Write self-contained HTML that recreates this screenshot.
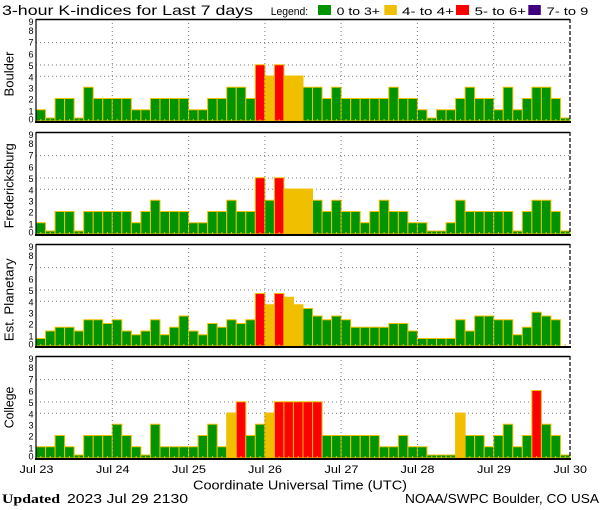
<!DOCTYPE html>
<html><head><meta charset="utf-8"><style>
html,body{margin:0;padding:0;background:#fff;}
svg{display:block;}
text{font-family:"Liberation Sans",sans-serif;fill:#000;}
.bars rect{stroke:#f0c000;stroke-width:1;vector-effect:non-scaling-stroke;}
.g{fill:#009400}.y{fill:#f0c000}.r{fill:#ff0000}
.hg{stroke:#7a7a7a;stroke-width:1;stroke-dasharray:1 3;}
.vg{stroke:#7a7a7a;stroke-width:1;stroke-dasharray:1 3;}
.tk{stroke:#f0c000;stroke-width:2;stroke-dasharray:1 8.5357;}
.dg text{font-size:9px;text-anchor:middle;}
</style></head><body>
<svg width="600" height="510" viewBox="0 0 600 510" xmlns="http://www.w3.org/2000/svg">
<rect width="600" height="510" fill="#fff"/>
<text x="2" y="15" font-size="14" textLength="251" lengthAdjust="spacingAndGlyphs">3-hour K-indices for Last 7 days</text>
<text x="270.7" y="15" font-size="11" textLength="37.5" lengthAdjust="spacingAndGlyphs">Legend:</text>
<rect x="318" y="5" width="13" height="10" fill="#009400"/>
<text x="336.7" y="15" font-size="11" textLength="43.3" lengthAdjust="spacingAndGlyphs">0 to 3+</text>
<rect x="384.3" y="5" width="12.5" height="10" fill="#f0c000"/>
<text x="402" y="15" font-size="11" textLength="52" lengthAdjust="spacingAndGlyphs">4- to 4+</text>
<rect x="456" y="5" width="13" height="10" fill="#ff0000"/>
<text x="474.7" y="15" font-size="11" textLength="51.3" lengthAdjust="spacingAndGlyphs">5- to 6+</text>
<rect x="528.3" y="5" width="12.5" height="10" fill="#400080"/>
<text x="546.7" y="15" font-size="11" textLength="41.6" lengthAdjust="spacingAndGlyphs">7- to 9</text>

<!-- Panel 1: Boulder, B=121 -->
<g>
<line class="hg" x1="36" x2="570" y1="76.2" y2="76.2"/>
<line class="hg" x1="36" x2="570" y1="65" y2="65"/>
<line class="hg" x1="36" x2="570" y1="42.6" y2="42.6"/>
<g class="bars" transform="translate(36,121) scale(9.5357,-11.25)">
<rect x="0" width="1" height="1" class="g"/><rect x="1" width="1" height="0.267" class="g"/><rect x="2" width="1" height="2" class="g"/><rect x="3" width="1" height="2" class="g"/><rect x="4" width="1" height="0.267" class="g"/><rect x="5" width="1" height="3" class="g"/><rect x="6" width="1" height="2" class="g"/><rect x="7" width="1" height="2" class="g"/>
<rect x="8" width="1" height="2" class="g"/><rect x="9" width="1" height="2" class="g"/><rect x="10" width="1" height="1" class="g"/><rect x="11" width="1" height="1" class="g"/><rect x="12" width="1" height="2" class="g"/><rect x="13" width="1" height="2" class="g"/><rect x="14" width="1" height="2" class="g"/><rect x="15" width="1" height="2" class="g"/>
<rect x="16" width="1" height="1" class="g"/><rect x="17" width="1" height="1" class="g"/><rect x="18" width="1" height="2" class="g"/><rect x="19" width="1" height="2" class="g"/><rect x="20" width="1" height="3" class="g"/><rect x="21" width="1" height="3" class="g"/><rect x="22" width="1" height="2" class="g"/><rect x="23" width="1" height="5" class="r"/>
<rect x="24" width="1" height="4" class="y"/><rect x="25" width="1" height="5" class="r"/><rect x="26" width="1" height="4" class="y"/><rect x="27" width="1" height="4" class="y"/><rect x="28" width="1" height="3" class="g"/><rect x="29" width="1" height="3" class="g"/><rect x="30" width="1" height="2" class="g"/><rect x="31" width="1" height="3" class="g"/>
<rect x="32" width="1" height="2" class="g"/><rect x="33" width="1" height="2" class="g"/><rect x="34" width="1" height="2" class="g"/><rect x="35" width="1" height="2" class="g"/><rect x="36" width="1" height="2" class="g"/><rect x="37" width="1" height="3" class="g"/><rect x="38" width="1" height="2" class="g"/><rect x="39" width="1" height="2" class="g"/>
<rect x="40" width="1" height="1" class="g"/><rect x="41" width="1" height="0.267" class="g"/><rect x="42" width="1" height="1" class="g"/><rect x="43" width="1" height="1" class="g"/><rect x="44" width="1" height="2" class="g"/><rect x="45" width="1" height="3" class="g"/><rect x="46" width="1" height="2" class="g"/><rect x="47" width="1" height="2" class="g"/>
<rect x="48" width="1" height="1" class="g"/><rect x="49" width="1" height="3" class="g"/><rect x="50" width="1" height="1" class="g"/><rect x="51" width="1" height="2" class="g"/><rect x="52" width="1" height="3" class="g"/><rect x="53" width="1" height="3" class="g"/><rect x="54" width="1" height="2" class="g"/><rect x="55" width="1" height="0.267" class="g"/>
</g>
<line class="tk" x1="40.3" x2="570" y1="120" y2="120"/>
<line class="vg" x1="112.3" x2="112.3" y1="19" y2="121"/><line class="vg" x1="188.6" x2="188.6" y1="19" y2="121"/><line class="vg" x1="264.9" x2="264.9" y1="19" y2="121"/><line class="vg" x1="341.1" x2="341.1" y1="19" y2="121"/><line class="vg" x1="417.4" x2="417.4" y1="19" y2="121"/><line class="vg" x1="493.7" x2="493.7" y1="19" y2="121"/>
<line x1="36" x2="570" y1="19.5" y2="19.5" stroke="#000" stroke-width="1.5"/>
<line x1="35" x2="571" y1="122" y2="122" stroke="#000" stroke-width="2"/>
<line x1="36" x2="36" y1="19" y2="122" stroke="#000" stroke-width="1.2"/>
<line x1="570" x2="570" y1="19" y2="122" stroke="#000" stroke-width="1.2" stroke-dasharray="4 2"/>
<g class="dg"><text x="31" y="122.3">0</text><text x="31" y="114.3">1</text><text x="31" y="102.7">2</text><text x="31" y="91.7">3</text><text x="31" y="80.3">4</text><text x="31" y="69">5</text><text x="31" y="57.7">6</text><text x="31" y="45.7">7</text><text x="31" y="34">8</text><text x="31" y="25">9</text></g>
<text transform="translate(13.5,96.5) rotate(-90)" font-size="13" textLength="45" lengthAdjust="spacingAndGlyphs">Boulder</text>
</g>

<!-- Panel 2: Fredericksburg, B=234 -->
<g>
<line class="hg" x1="36" x2="570" y1="189.2" y2="189.2"/>
<line class="hg" x1="36" x2="570" y1="178" y2="178"/>
<line class="hg" x1="36" x2="570" y1="155.6" y2="155.6"/>
<g class="bars" transform="translate(36,234) scale(9.5357,-11.25)">
<rect x="0" width="1" height="1" class="g"/><rect x="1" width="1" height="0.267" class="g"/><rect x="2" width="1" height="2" class="g"/><rect x="3" width="1" height="2" class="g"/><rect x="4" width="1" height="0.267" class="g"/><rect x="5" width="1" height="2" class="g"/><rect x="6" width="1" height="2" class="g"/><rect x="7" width="1" height="2" class="g"/>
<rect x="8" width="1" height="2" class="g"/><rect x="9" width="1" height="2" class="g"/><rect x="10" width="1" height="1" class="g"/><rect x="11" width="1" height="2" class="g"/><rect x="12" width="1" height="3" class="g"/><rect x="13" width="1" height="2" class="g"/><rect x="14" width="1" height="2" class="g"/><rect x="15" width="1" height="2" class="g"/>
<rect x="16" width="1" height="1" class="g"/><rect x="17" width="1" height="1" class="g"/><rect x="18" width="1" height="2" class="g"/><rect x="19" width="1" height="2" class="g"/><rect x="20" width="1" height="3" class="g"/><rect x="21" width="1" height="2" class="g"/><rect x="22" width="1" height="2" class="g"/><rect x="23" width="1" height="5" class="r"/>
<rect x="24" width="1" height="3" class="g"/><rect x="25" width="1" height="5" class="r"/><rect x="26" width="1" height="4" class="y"/><rect x="27" width="1" height="4" class="y"/><rect x="28" width="1" height="4" class="y"/><rect x="29" width="1" height="3" class="g"/><rect x="30" width="1" height="2" class="g"/><rect x="31" width="1" height="3" class="g"/>
<rect x="32" width="1" height="2" class="g"/><rect x="33" width="1" height="2" class="g"/><rect x="34" width="1" height="1" class="g"/><rect x="35" width="1" height="2" class="g"/><rect x="36" width="1" height="3" class="g"/><rect x="37" width="1" height="2" class="g"/><rect x="38" width="1" height="2" class="g"/><rect x="39" width="1" height="1" class="g"/>
<rect x="40" width="1" height="1" class="g"/><rect x="41" width="1" height="0.267" class="g"/><rect x="42" width="1" height="0.267" class="g"/><rect x="43" width="1" height="1" class="g"/><rect x="44" width="1" height="3" class="g"/><rect x="45" width="1" height="2" class="g"/><rect x="46" width="1" height="2" class="g"/><rect x="47" width="1" height="2" class="g"/>
<rect x="48" width="1" height="2" class="g"/><rect x="49" width="1" height="2" class="g"/><rect x="50" width="1" height="0.267" class="g"/><rect x="51" width="1" height="2" class="g"/><rect x="52" width="1" height="3" class="g"/><rect x="53" width="1" height="3" class="g"/><rect x="54" width="1" height="2" class="g"/><rect x="55" width="1" height="0.267" class="g"/>
</g>
<line class="tk" x1="40.3" x2="570" y1="233" y2="233"/>
<line class="vg" x1="112.3" x2="112.3" y1="132" y2="234"/><line class="vg" x1="188.6" x2="188.6" y1="132" y2="234"/><line class="vg" x1="264.9" x2="264.9" y1="132" y2="234"/><line class="vg" x1="341.1" x2="341.1" y1="132" y2="234"/><line class="vg" x1="417.4" x2="417.4" y1="132" y2="234"/><line class="vg" x1="493.7" x2="493.7" y1="132" y2="234"/>
<line x1="36" x2="570" y1="132.5" y2="132.5" stroke="#000" stroke-width="1.5"/>
<line x1="35" x2="571" y1="235" y2="235" stroke="#000" stroke-width="2"/>
<line x1="36" x2="36" y1="132" y2="235" stroke="#000" stroke-width="1.2"/>
<line x1="570" x2="570" y1="132" y2="235" stroke="#000" stroke-width="1.2" stroke-dasharray="4 2"/>
<g class="dg"><text x="31" y="235.3">0</text><text x="31" y="227.3">1</text><text x="31" y="215.7">2</text><text x="31" y="204.7">3</text><text x="31" y="193.3">4</text><text x="31" y="182">5</text><text x="31" y="170.7">6</text><text x="31" y="158.7">7</text><text x="31" y="147">8</text><text x="31" y="138">9</text></g>
<text transform="translate(13.5,228.3) rotate(-90)" font-size="13" textLength="85" lengthAdjust="spacingAndGlyphs">Fredericksburg</text>
</g>

<!-- Panel 3: Est. Planetary, B=346 -->
<g>
<line class="hg" x1="36" x2="570" y1="301.2" y2="301.2"/>
<line class="hg" x1="36" x2="570" y1="290" y2="290"/>
<line class="hg" x1="36" x2="570" y1="267.6" y2="267.6"/>
<g class="bars" transform="translate(36,346) scale(9.5357,-11.25)">
<rect x="0" width="1" height="0.67" class="g"/><rect x="1" width="1" height="1.33" class="g"/><rect x="2" width="1" height="1.67" class="g"/><rect x="3" width="1" height="1.67" class="g"/><rect x="4" width="1" height="1.33" class="g"/><rect x="5" width="1" height="2.33" class="g"/><rect x="6" width="1" height="2.33" class="g"/><rect x="7" width="1" height="2" class="g"/>
<rect x="8" width="1" height="2.33" class="g"/><rect x="9" width="1" height="1.33" class="g"/><rect x="10" width="1" height="1" class="g"/><rect x="11" width="1" height="1.33" class="g"/><rect x="12" width="1" height="2.33" class="g"/><rect x="13" width="1" height="1" class="g"/><rect x="14" width="1" height="1.67" class="g"/><rect x="15" width="1" height="2.67" class="g"/>
<rect x="16" width="1" height="1.33" class="g"/><rect x="17" width="1" height="1" class="g"/><rect x="18" width="1" height="2" class="g"/><rect x="19" width="1" height="1.67" class="g"/><rect x="20" width="1" height="2.33" class="g"/><rect x="21" width="1" height="2" class="g"/><rect x="22" width="1" height="2.33" class="g"/><rect x="23" width="1" height="4.67" class="r"/>
<rect x="24" width="1" height="3.67" class="y"/><rect x="25" width="1" height="4.67" class="r"/><rect x="26" width="1" height="4.33" class="y"/><rect x="27" width="1" height="3.67" class="y"/><rect x="28" width="1" height="3.33" class="g"/><rect x="29" width="1" height="2.67" class="g"/><rect x="30" width="1" height="2.33" class="g"/><rect x="31" width="1" height="2.67" class="g"/>
<rect x="32" width="1" height="2.33" class="g"/><rect x="33" width="1" height="1.67" class="g"/><rect x="34" width="1" height="1.67" class="g"/><rect x="35" width="1" height="1.67" class="g"/><rect x="36" width="1" height="1.67" class="g"/><rect x="37" width="1" height="2" class="g"/><rect x="38" width="1" height="2" class="g"/><rect x="39" width="1" height="1.33" class="g"/>
<rect x="40" width="1" height="0.67" class="g"/><rect x="41" width="1" height="0.67" class="g"/><rect x="42" width="1" height="0.67" class="g"/><rect x="43" width="1" height="0.67" class="g"/><rect x="44" width="1" height="2.33" class="g"/><rect x="45" width="1" height="1.33" class="g"/><rect x="46" width="1" height="2.67" class="g"/><rect x="47" width="1" height="2.67" class="g"/>
<rect x="48" width="1" height="2.33" class="g"/><rect x="49" width="1" height="2.33" class="g"/><rect x="50" width="1" height="1" class="g"/><rect x="51" width="1" height="1.67" class="g"/><rect x="52" width="1" height="3" class="g"/><rect x="53" width="1" height="2.67" class="g"/><rect x="54" width="1" height="2.33" class="g"/>
</g>
<line class="tk" x1="40.3" x2="570" y1="345" y2="345"/>
<line class="vg" x1="112.3" x2="112.3" y1="244" y2="346"/><line class="vg" x1="188.6" x2="188.6" y1="244" y2="346"/><line class="vg" x1="264.9" x2="264.9" y1="244" y2="346"/><line class="vg" x1="341.1" x2="341.1" y1="244" y2="346"/><line class="vg" x1="417.4" x2="417.4" y1="244" y2="346"/><line class="vg" x1="493.7" x2="493.7" y1="244" y2="346"/>
<line x1="36" x2="570" y1="244.5" y2="244.5" stroke="#000" stroke-width="1.5"/>
<line x1="35" x2="571" y1="347" y2="347" stroke="#000" stroke-width="2"/>
<line x1="36" x2="36" y1="244" y2="347" stroke="#000" stroke-width="1.2"/>
<line x1="570" x2="570" y1="244" y2="347" stroke="#000" stroke-width="1.2" stroke-dasharray="4 2"/>
<g class="dg"><text x="31" y="347.3">0</text><text x="31" y="339.3">1</text><text x="31" y="327.7">2</text><text x="31" y="316.7">3</text><text x="31" y="305.3">4</text><text x="31" y="294">5</text><text x="31" y="282.7">6</text><text x="31" y="270.7">7</text><text x="31" y="259">8</text><text x="31" y="250">9</text></g>
<text transform="translate(13.5,341.3) rotate(-90)" font-size="13" textLength="83" lengthAdjust="spacingAndGlyphs">Est. Planetary</text>
</g>

<!-- Panel 4: College, B=458 -->
<g>
<line class="hg" x1="36" x2="570" y1="413.2" y2="413.2"/>
<line class="hg" x1="36" x2="570" y1="402" y2="402"/>
<line class="hg" x1="36" x2="570" y1="379.6" y2="379.6"/>
<g class="bars" transform="translate(36,458) scale(9.5357,-11.25)">
<rect x="0" width="1" height="1" class="g"/><rect x="1" width="1" height="1" class="g"/><rect x="2" width="1" height="2" class="g"/><rect x="3" width="1" height="1" class="g"/><rect x="4" width="1" height="0.267" class="g"/><rect x="5" width="1" height="2" class="g"/><rect x="6" width="1" height="2" class="g"/><rect x="7" width="1" height="2" class="g"/>
<rect x="8" width="1" height="3" class="g"/><rect x="9" width="1" height="2" class="g"/><rect x="10" width="1" height="1" class="g"/><rect x="11" width="1" height="0.267" class="g"/><rect x="12" width="1" height="3" class="g"/><rect x="13" width="1" height="1" class="g"/><rect x="14" width="1" height="1" class="g"/><rect x="15" width="1" height="1" class="g"/>
<rect x="16" width="1" height="1" class="g"/><rect x="17" width="1" height="2" class="g"/><rect x="18" width="1" height="3" class="g"/><rect x="19" width="1" height="1" class="g"/><rect x="20" width="1" height="4" class="y"/><rect x="21" width="1" height="5" class="r"/><rect x="22" width="1" height="2" class="g"/><rect x="23" width="1" height="3" class="g"/>
<rect x="24" width="1" height="4" class="y"/><rect x="25" width="1" height="5" class="r"/><rect x="26" width="1" height="5" class="r"/><rect x="27" width="1" height="5" class="r"/><rect x="28" width="1" height="5" class="r"/><rect x="29" width="1" height="5" class="r"/><rect x="30" width="1" height="2" class="g"/><rect x="31" width="1" height="2" class="g"/>
<rect x="32" width="1" height="2" class="g"/><rect x="33" width="1" height="2" class="g"/><rect x="34" width="1" height="2" class="g"/><rect x="35" width="1" height="2" class="g"/><rect x="36" width="1" height="1" class="g"/><rect x="37" width="1" height="1" class="g"/><rect x="38" width="1" height="2" class="g"/><rect x="39" width="1" height="1" class="g"/>
<rect x="40" width="1" height="1" class="g"/><rect x="41" width="1" height="0.267" class="g"/><rect x="42" width="1" height="0.267" class="g"/><rect x="43" width="1" height="0.267" class="g"/><rect x="44" width="1" height="4" class="y"/><rect x="45" width="1" height="2" class="g"/><rect x="46" width="1" height="2" class="g"/><rect x="47" width="1" height="1" class="g"/>
<rect x="48" width="1" height="2" class="g"/><rect x="49" width="1" height="3" class="g"/><rect x="50" width="1" height="1" class="g"/><rect x="51" width="1" height="2" class="g"/><rect x="52" width="1" height="6" class="r"/><rect x="53" width="1" height="3" class="g"/><rect x="54" width="1" height="2" class="g"/><rect x="55" width="1" height="0.267" class="g"/>
</g>
<line class="tk" x1="40.3" x2="570" y1="457" y2="457"/>
<line class="vg" x1="112.3" x2="112.3" y1="356" y2="458"/><line class="vg" x1="188.6" x2="188.6" y1="356" y2="458"/><line class="vg" x1="264.9" x2="264.9" y1="356" y2="458"/><line class="vg" x1="341.1" x2="341.1" y1="356" y2="458"/><line class="vg" x1="417.4" x2="417.4" y1="356" y2="458"/><line class="vg" x1="493.7" x2="493.7" y1="356" y2="458"/>
<line x1="36" x2="570" y1="356.5" y2="356.5" stroke="#000" stroke-width="1.5"/>
<line x1="35" x2="571" y1="459" y2="459" stroke="#000" stroke-width="2"/>
<line x1="36" x2="36" y1="356" y2="459" stroke="#000" stroke-width="1.2"/>
<line x1="570" x2="570" y1="356" y2="459" stroke="#000" stroke-width="1.2" stroke-dasharray="4 2"/>
<g class="dg"><text x="31" y="459.3">0</text><text x="31" y="451.3">1</text><text x="31" y="439.7">2</text><text x="31" y="428.7">3</text><text x="31" y="417.3">4</text><text x="31" y="406">5</text><text x="31" y="394.7">6</text><text x="31" y="382.7">7</text><text x="31" y="371">8</text><text x="31" y="362">9</text></g>
<text transform="translate(13.5,428.3) rotate(-90)" font-size="13" textLength="41.7" lengthAdjust="spacingAndGlyphs">College</text>
</g>

<!-- X axis day labels -->
<g font-size="11">
<text x="19.5" y="473" textLength="34" lengthAdjust="spacingAndGlyphs">Jul 23</text>
<text x="96" y="473" textLength="33.5" lengthAdjust="spacingAndGlyphs">Jul 24</text>
<text x="172" y="473" textLength="34" lengthAdjust="spacingAndGlyphs">Jul 25</text>
<text x="248" y="473" textLength="34" lengthAdjust="spacingAndGlyphs">Jul 26</text>
<text x="324.5" y="473" textLength="34" lengthAdjust="spacingAndGlyphs">Jul 27</text>
<text x="400.5" y="473" textLength="34" lengthAdjust="spacingAndGlyphs">Jul 28</text>
<text x="477" y="473" textLength="34" lengthAdjust="spacingAndGlyphs">Jul 29</text>
<text x="553.5" y="473" textLength="33.5" lengthAdjust="spacingAndGlyphs">Jul 30</text>
</g>
<text x="193" y="489.7" font-size="12.5" textLength="214" lengthAdjust="spacingAndGlyphs">Coordinate Universal Time (UTC)</text>
<text x="2" y="503" font-size="13" font-weight="bold" style="font-family:'Liberation Serif',serif" textLength="58" lengthAdjust="spacingAndGlyphs">Updated</text>
<text x="67" y="503" font-size="13" textLength="121" lengthAdjust="spacingAndGlyphs">2023 Jul 29 2130</text>
<text x="405" y="503" font-size="13" textLength="194" lengthAdjust="spacingAndGlyphs">NOAA/SWPC Boulder, CO USA</text>
</svg>
</body></html>
